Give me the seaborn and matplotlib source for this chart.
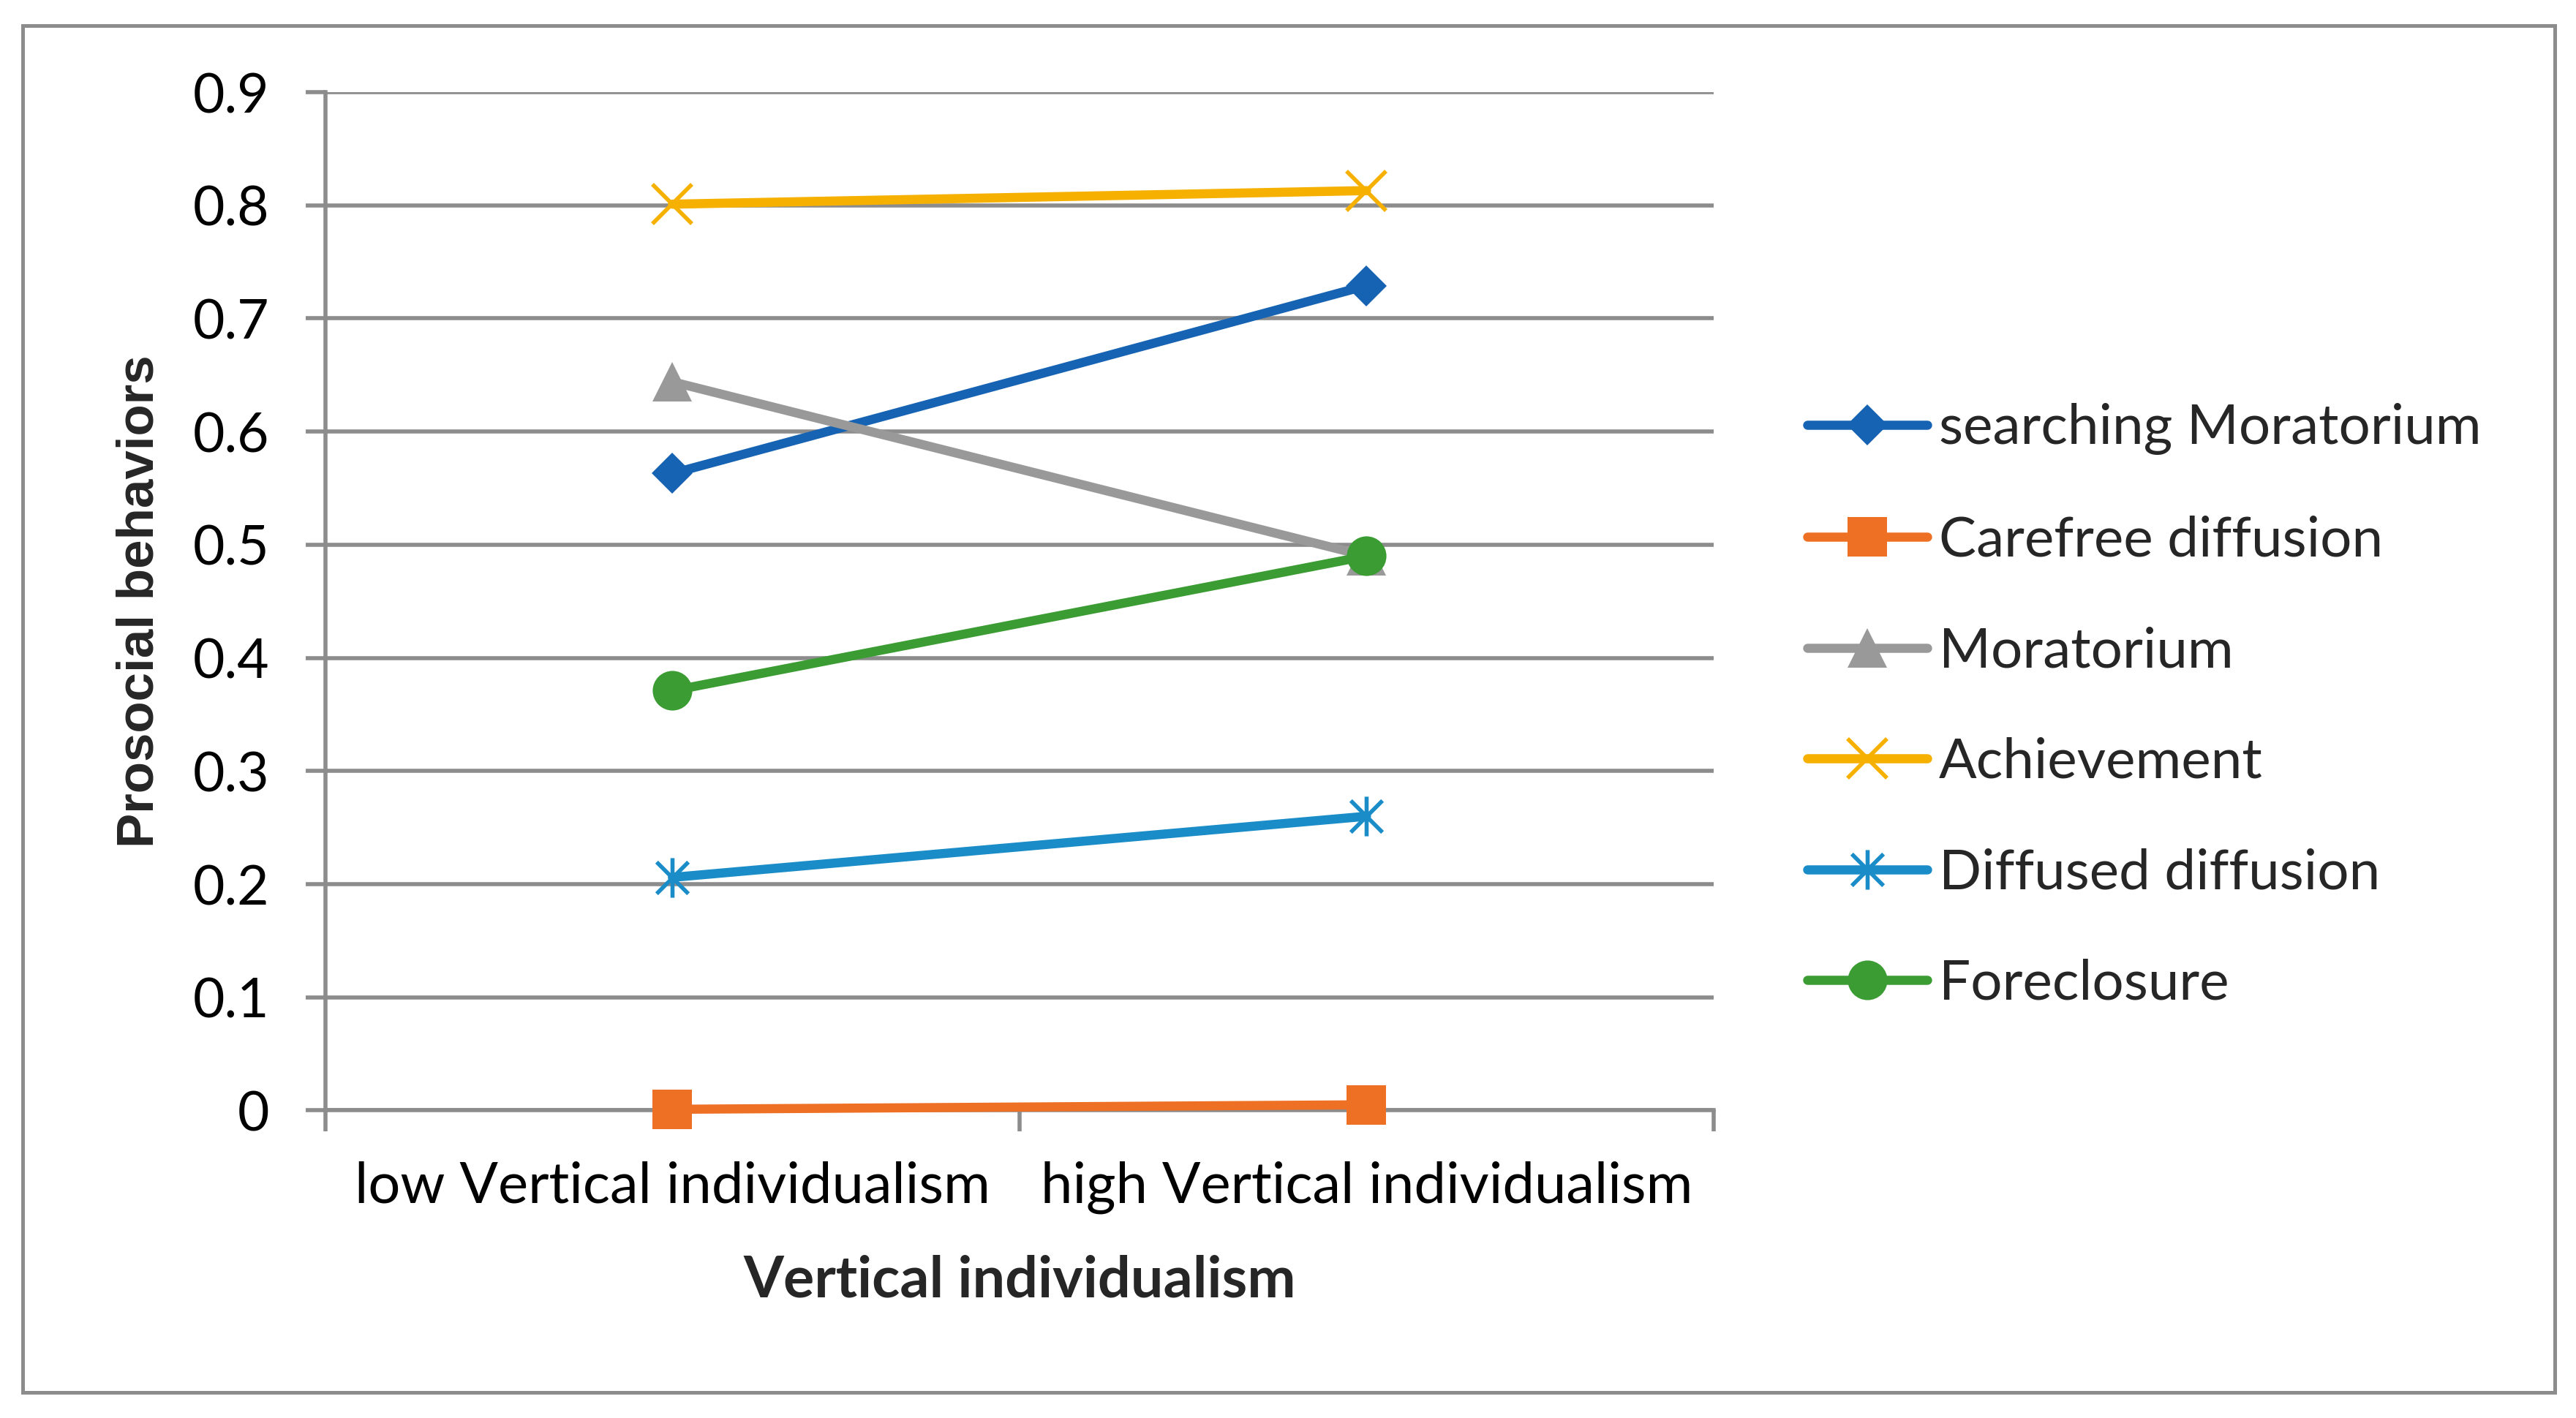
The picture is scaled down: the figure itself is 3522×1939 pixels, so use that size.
import numpy as np
import pandas as pd
import matplotlib
matplotlib.use("Agg")
import matplotlib.pyplot as plt
from matplotlib.path import Path
from matplotlib.patches import Rectangle
import seaborn as sns

# ---- data ----
categories = ["low Vertical individualism", "high Vertical individualism"]
series_names = ["searching Moratorium", "Carefree diffusion", "Moratorium",
                "Achievement", "Diffused diffusion", "Foreclosure"]
searching_moratorium = [0.563, 0.729]
carefree_diffusion = [0.001, 0.005]
moratorium = [0.644, 0.490]
achievement = [0.801, 0.813]
diffused_diffusion = [0.206, 0.260]
foreclosure = [0.371, 0.490]
y_ticks = [0, 0.1, 0.2, 0.3, 0.4, 0.5, 0.6, 0.7, 0.8, 0.9]
x_title = "Vertical individualism"
y_title = "Prosocial behaviors"

values = [searching_moratorium, carefree_diffusion, moratorium,
          achievement, diffused_diffusion, foreclosure]
colors = ["#1763B3", "#EE7024", "#999999", "#F5B000", "#1A8DC8", "#3A9C32"]

asterisk = Path([(-1, -1), (1, 1), (-1, 1), (1, -1), (0, -1.25), (0, 1.25)],
                [Path.MOVETO, Path.LINETO, Path.MOVETO, Path.LINETO,
                 Path.MOVETO, Path.LINETO])
markers = ["D", "s", "^", "x", asterisk, "o"]
msizes = [14.5, 19.5, 19.5, 19.5, 19.5, 19.5]

rows = []
for name, vals in zip(series_names, values):
    for i, (cat, v) in enumerate(zip(categories, vals)):
        rows.append({"series": name, "pos": i, "category": cat, "value": v})
df = pd.DataFrame(rows)

sns.set_style("white")
plt.rcParams["font.family"] = ["Lato", "DejaVu Sans"]

DPI = 200
fig = plt.figure(figsize=(3522 / DPI, 1939 / DPI), dpi=DPI)
ax = fig.add_axes([0.1263, 0.2169, 0.5389, 0.7181])

grid_c = "#8C8C8C"
for name, col, mk, ms in zip(series_names, colors, markers, msizes):
    sub = df[df["series"] == name]
    kw = dict(marker=mk, markersize=ms, color=col, linewidth=4.5,
              markeredgecolor=col, clip_on=False)
    if mk in ("x",) or isinstance(mk, Path):
        kw.update(markerfacecolor="none", markeredgewidth=2.0)
    else:
        kw.update(markerfacecolor=col, markeredgewidth=0)
    sns.lineplot(data=sub, x="pos", y="value", ax=ax, label=name,
                 sort=False, zorder=3, **kw)

ax.set_xlim(-0.5, 1.5)
ax.set_ylim(0, 0.9)
ax.set_yticks(y_ticks)
ax.set_yticklabels([f"{v:g}" for v in y_ticks])
ax.set_xticks(range(len(categories)))
ax.set_xticklabels(categories)
ax.set_xticks([-0.5, 0.5, 1.5], minor=True)

ax.yaxis.grid(True, color=grid_c, linewidth=2.0)
ax.xaxis.grid(False)
ax.set_axisbelow(True)
for s in ["top", "right"]:
    ax.spines[s].set_visible(False)
for s in ["left", "bottom"]:
    ax.spines[s].set_color(grid_c)
    ax.spines[s].set_linewidth(2.0)

ax.tick_params(axis="y", which="major", length=9.7, width=2.0, color=grid_c,
               pad=18, labelsize=27, labelcolor="black", left=True)
ax.tick_params(axis="x", which="major", length=0, pad=25, labelsize=28,
               labelcolor="black", bottom=True)
ax.tick_params(axis="x", which="minor", length=10.5, width=2.0, color=grid_c,
               bottom=True)

ax.set_xlabel(x_title, fontsize=28.5, fontweight="bold", labelpad=20)
ax.set_ylabel(y_title, fontsize=25.5, fontweight="bold", labelpad=14,
              family=["Liberation Sans", "DejaVu Sans"])

handles, labels = ax.get_legend_handles_labels()
ax.get_legend().remove()
fig.legend(handles, labels, loc="center left", bbox_to_anchor=(0.7015, 0.502),
           frameon=False, fontsize=27.5, handlelength=2.15, handletextpad=0.21,
           labelspacing=1.08, borderpad=0, borderaxespad=0)

fig.patches.append(Rectangle((0.0089, 0.018), 0.9828, 0.964,
                             transform=fig.transFigure, fill=False,
                             edgecolor=grid_c, linewidth=1.8))

fig.savefig("out.png", dpi=DPI, facecolor="white")
